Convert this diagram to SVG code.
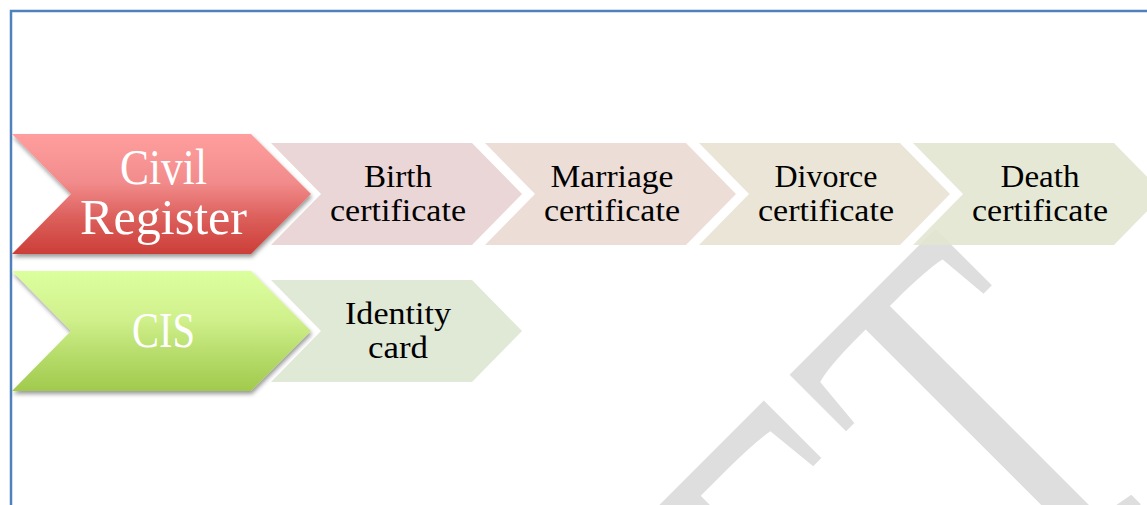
<svg xmlns="http://www.w3.org/2000/svg" width="1147" height="505" viewBox="0 0 1147 505">
<style>
text{font-family:"Liberation Serif","Times New Roman",serif;text-anchor:middle}
.s{font-size:31px;fill:#000}
.b{font-size:50px;fill:#fff}
.p{fill-opacity:.9}
</style>
<defs>
<linearGradient id="gr" x1="0" y1="0" x2="0" y2="1"><stop offset="0" stop-color="#ff9e9e"/><stop offset=".4" stop-color="#f28c8c"/><stop offset=".7" stop-color="#dc5f5b"/><stop offset="1" stop-color="#cc3e38"/></linearGradient>
<linearGradient id="gg" x1="0" y1="0" x2="0" y2="1"><stop offset="0" stop-color="#dcff9e"/><stop offset=".4" stop-color="#d0f08c"/><stop offset=".7" stop-color="#b6dc6a"/><stop offset="1" stop-color="#a1ca4d"/></linearGradient>
<filter id="sh" x="-10%" y="-10%" width="120%" height="125%"><feDropShadow dx="1" dy="3" stdDeviation="2.2" flood-color="#000" flood-opacity=".4"/></filter>
</defs>
<rect width="1147" height="505" fill="#fff"/>
<g id="watermark"><text transform="translate(1192,453) rotate(-45) scale(1,1.45)" style="text-anchor:end;font-size:358px;letter-spacing:17px" fill="#dedede">DRAFT</text></g>
<path id="frame" d="M11 505V11H1147" fill="none" stroke="#4f81bd" stroke-width="2.500"/>
<g id="connectors"></g>
<g id="birth"><path class="p" fill="#e8d2d2" d="M271 143H472L522 194 472 245H271L321 194Z"/><text class="s" x="398" y="187" textLength="68" lengthAdjust="spacingAndGlyphs">Birth</text><text class="s" x="398" y="221" textLength="136" lengthAdjust="spacingAndGlyphs">certificate</text></g>
<g id="marriage"><path class="p" fill="#ead9d3" d="M485 143H686L736 194 686 245H485L535 194Z"/><text class="s" x="612" y="187" textLength="123" lengthAdjust="spacingAndGlyphs">Marriage</text><text class="s" x="612" y="221" textLength="136" lengthAdjust="spacingAndGlyphs">certificate</text></g>
<g id="divorce"><path class="p" fill="#e8e2d2" d="M699 143H900L950 194 900 245H699L749 194Z"/><text class="s" x="826" y="187" textLength="103" lengthAdjust="spacingAndGlyphs">Divorce</text><text class="s" x="826" y="221" textLength="136" lengthAdjust="spacingAndGlyphs">certificate</text></g>
<g id="death"><path class="p" fill="#e3e6d2" d="M913 143H1114L1164 194 1114 245H913L963 194Z"/><text class="s" x="1040" y="187" textLength="79" lengthAdjust="spacingAndGlyphs">Death</text><text class="s" x="1040" y="221" textLength="136" lengthAdjust="spacingAndGlyphs">certificate</text></g>
<g id="identity"><path class="p" fill="#dde5d2" d="M271 280H472L522 331 472 382H271L321 331Z"/><text class="s" x="398" y="324" textLength="106" lengthAdjust="spacingAndGlyphs">Identity</text><text class="s" x="398" y="358" textLength="60" lengthAdjust="spacingAndGlyphs">card</text></g>
<g id="civil-register"><path fill="url(#gr)" filter="url(#sh)" d="M12 134H251L311 194 251 254H12L71 194Z"/><text class="b" x="163.500" y="184" textLength="87" lengthAdjust="spacingAndGlyphs">Civil</text><text class="b" x="163.500" y="234" textLength="167" lengthAdjust="spacingAndGlyphs">Register</text></g>
<g id="cis"><path fill="url(#gg)" filter="url(#sh)" d="M12 271H251L311 331 251 391H12L71 331Z"/><text class="b" x="163.500" y="347" textLength="63" lengthAdjust="spacingAndGlyphs">CIS</text></g>
</svg>
